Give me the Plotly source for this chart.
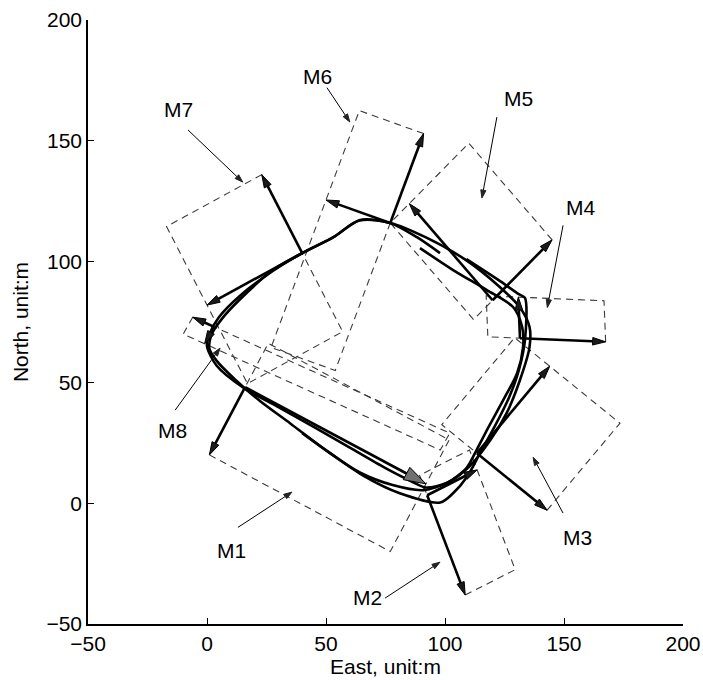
import math
import plotly.graph_objects as go

# ---- axes -------------------------------------------------------------
X_RANGE = [-50, 200]
Y_RANGE = [-50, 200]
TICK_VALUES = [-50, 0, 50, 100, 150, 200]
X_TITLE = "East, unit:m"
Y_TITLE = "North, unit:m"

# ---- measurement frames M1..M8 ---------------------------------------
# origin on the track, heading vector u, side vector v (pointing outward),
# and how far the dashed window reaches inward (as a multiple of v)
FRAME_NAMES = ["M1", "M2", "M3", "M4", "M5", "M6", "M7", "M8"]
ORIGIN_X = [16.0, 92.5, 113.4, 131.5, 120.0, 77.0, 40.0, 3.0]
ORIGIN_Y = [48.0, 3.3, 20.7, 68.3, 84.0, 116.0, 103.5, 73.0]
HEAD_DX = [76.0, 21.0, 30.6, -0.7, -35.0, -27.0, -40.0, -4.0]
HEAD_DY = [-40.0, 10.5, 36.0, 17.0, 40.0, 9.5, -21.5, -7.0]
SIDE_DX = [-15.0, 16.0, 29.5, 36.0, 25.0, 14.0, -17.0, -9.0]
SIDE_DY = [-28.0, -41.3, -23.6, -1.5, 25.0, 37.0, 32.5, 4.0]
INNER_REACH = [0.65, 0.2, 0.5, 0.375, 0.32, 1.65, 1.0, 11.0]

# ---- frame labels and their pointers ----------------------------------
LABEL_X = [10.5, 67.4, 155.7, 157.1, 130.7, 46.4, -12.0, -14.3]
LABEL_Y = [-19.5, -38.9, -14.3, 122.4, 167.5, 176.6, 162.8, 30.2]
POINTER_FROM_X = [13.0, 74.8, 149.6, 149.6, 121.8, 50.4, -8.0, -13.4]
POINTER_FROM_Y = [-10.0, -39.3, -4.1, 115.0, 159.8, 172.0, 154.5, 38.5]
POINTER_TO_X = [35.7, 97.9, 137.0, 143.0, 115.5, 60.0, 15.0, 5.5]
POINTER_TO_Y = [4.6, -24.4, 19.0, 81.0, 126.3, 157.8, 132.9, 64.2]

# ---- vehicle track (three passes round the loop) ----------------------
PASS1_X = [0, 4, 15, 30, 45, 60, 75, 86, 92, 101, 110, 119, 126, 131.5, 135.5,
           135.5, 131.5, 123, 109, 92, 77, 64, 53, 40, 27.5, 14, 5, 1, 0]
PASS1_Y = [65, 57, 48, 39.8, 31.5, 23, 14.5, 9, 6.5, 8.5, 15, 26, 37.5, 51, 64.5,
           73, 81, 89.5, 100.5, 110, 116, 117, 110, 103.5, 96, 86, 77, 70, 65]
PASS2_X = [89.5, 103.4, 117.6, 128.6, 132.4, 132.8, 130.3, 124.4, 118, 113, 109,
           101, 91, 78, 64, 50, 35, 22, 12, 4, 1, 2, 6, 14, 27.7, 40, 52.9,
           64.3, 76.9, 88.2, 97.9]
PASS2_Y = [105.6, 96.5, 88.2, 81.2, 73, 64.6, 53.8, 42.6, 31, 21.5, 14.5,
           8.5, 5.4, 7.5, 12.8, 21.9, 33, 42.5, 51, 59, 64, 70, 76, 84.5, 96.5,
           103.5, 110, 117.2, 116, 110.1, 103.5]
PASS3_X = [109, 123, 131, 133.6, 133.6, 131, 127, 121, 114.7, 109.2, 103.4, 98,
           81, 66, 52, 40]
PASS3_Y = [101, 92, 86.5, 85, 67.5, 55, 44, 32, 20.7, 10.8, 4.1, 0.3,
           4.1, 11.2, 20.5, 29]

# ---- page geometry ----------------------------------------------------
WIDTH, HEIGHT = 703, 680
M_LEFT, M_RIGHT, M_TOP, M_BOTTOM = 88, 20, 20, 56
SX = (WIDTH - M_LEFT - M_RIGHT) / (X_RANGE[1] - X_RANGE[0])
SY = (HEIGHT - M_TOP - M_BOTTOM) / (Y_RANGE[1] - Y_RANGE[0])

FONT = "Liberation Sans, Arial, Helvetica, sans-serif"


def arrow_head(x0, y0, x1, y1, length, half_w):
    """Triangle at (x1, y1) sized in screen pixels; returns base point and outline."""
    dx, dy = (x1 - x0) * SX, (y1 - y0) * SY
    n = math.hypot(dx, dy)
    ux, uy = dx / n, dy / n
    bx, by = x1 - ux * length / SX, y1 - uy * length / SY
    px, py = -uy, ux
    tx = [x1, bx + px * half_w / SX, bx - px * half_w / SX, x1]
    ty = [y1, by + py * half_w / SY, by - py * half_w / SY, y1]
    return (bx, by), tx, ty


fig = go.Figure()

# dashed measurement windows
for i in range(len(FRAME_NAMES)):
    ox, oy = ORIGIN_X[i], ORIGIN_Y[i]
    ux, uy = HEAD_DX[i], HEAD_DY[i]
    vx, vy = SIDE_DX[i], SIDE_DY[i]
    k = INNER_REACH[i]
    cx = [ox + vx, ox + ux + vx, ox + ux - k * vx, ox - k * vx, ox + vx]
    cy = [oy + vy, oy + uy + vy, oy + uy - k * vy, oy - k * vy, oy + vy]
    fig.add_trace(go.Scatter(x=cx, y=cy, mode="lines", hoverinfo="skip",
                             line=dict(color="#3a3a3a", width=1.1, dash="7px,5px")))

# track
for px_, py_ in [(PASS1_X, PASS1_Y), (PASS2_X, PASS2_Y), (PASS3_X, PASS3_Y)]:
    fig.add_trace(go.Scatter(x=px_, y=py_, mode="lines", hoverinfo="skip",
                             line=dict(color="black", width=2.6, shape="spline",
                                       smoothing=0.8)))


def add_arrow(x0, y0, x1, y1, width, length, half_w, fill, edge="black"):
    (bx, by), tx, ty = arrow_head(x0, y0, x1, y1, length, half_w)
    fig.add_trace(go.Scatter(x=[x0, bx], y=[y0, by], mode="lines", hoverinfo="skip",
                             line=dict(color="black", width=width)))
    fig.add_trace(go.Scatter(x=tx, y=ty, mode="lines", fill="toself", fillcolor=fill,
                             hoverinfo="skip", line=dict(color=edge, width=1)))


# frame axes: heading arrow and side arrow from each origin
for i in range(len(FRAME_NAMES)):
    ox, oy = ORIGIN_X[i], ORIGIN_Y[i]
    hx, hy = ox + HEAD_DX[i], oy + HEAD_DY[i]
    sx, sy = ox + SIDE_DX[i], oy + SIDE_DY[i]
    if FRAME_NAMES[i] == "M1":
        add_arrow(ox, oy, hx, hy, 2.6, 22, 7, "#707070")
    else:
        add_arrow(ox, oy, hx, hy, 2.6, 13, 3.8, "#1a1a1a")
    add_arrow(ox, oy, sx, sy, 2.6, 13, 3.8, "#1a1a1a")

# labels with thin pointers
for i, name in enumerate(FRAME_NAMES):
    add_arrow(POINTER_FROM_X[i], POINTER_FROM_Y[i], POINTER_TO_X[i], POINTER_TO_Y[i],
              1.0, 8, 2.6, "#222222", edge="#222222")
    fig.add_annotation(x=LABEL_X[i], y=LABEL_Y[i], text=name, showarrow=False,
                       xanchor="center", yanchor="middle",
                       font=dict(family=FONT, size=21, color="black"))

axis_common = dict(
    tickvals=TICK_VALUES, ticks="inside", ticklen=6, tickwidth=1.2, tickcolor="black",
    showline=True, linecolor="black", linewidth=1.5, showgrid=False, zeroline=False,
    tickfont=dict(family=FONT, size=21, color="black"), mirror=False,
)
fig.update_xaxes(range=X_RANGE, title=dict(text=X_TITLE, standoff=4,
                 font=dict(family=FONT, size=21, color="black")), **axis_common)
fig.update_yaxes(range=Y_RANGE, title=dict(text=Y_TITLE, standoff=12,
                 font=dict(family=FONT, size=21, color="black")), **axis_common)

fig.update_layout(
    width=WIDTH, height=HEIGHT, showlegend=False,
    margin=dict(l=M_LEFT, r=M_RIGHT, t=M_TOP, b=M_BOTTOM, autoexpand=False),
    paper_bgcolor="white", plot_bgcolor="white",
    font=dict(family=FONT, size=21, color="black"),
)

fig.write_html("out.html")
